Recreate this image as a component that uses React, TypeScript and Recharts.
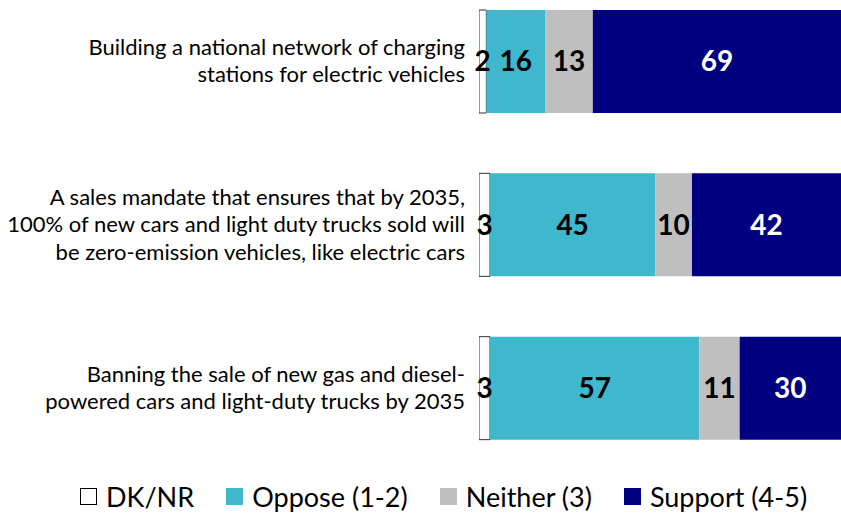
import React from "react";
import { BarChart, Bar, XAxis, YAxis, LabelList, Legend } from "recharts";

const statements = [
  "Building a national network of charging|stations for electric vehicles",
  "A sales mandate that ensures that by 2035,|100% of new cars and light duty trucks sold will|be zero-emission vehicles, like electric cars",
  "Banning the sale of new gas and diesel-|powered cars and light-duty trucks by 2035",
];
const dkNr = [2, 3, 3];
const oppose = [16, 45, 57];
const neither = [13, 10, 11];
const support = [69, 42, 30];

const series = [
  { key: "dk", name: "DK/NR", color: "#FFFFFF", text: "#000000" },
  { key: "oppose", name: "Oppose (1-2)", color: "#3FB8CE", text: "#000000" },
  { key: "neither", name: "Neither (3)", color: "#BFBFBF", text: "#000000" },
  { key: "support", name: "Support (4-5)", color: "#000080", text: "#FFFFFF" },
];

const data = statements.map((name, i) => ({
  name,
  dk: dkNr[i],
  oppose: oppose[i],
  neither: neither[i],
  support: support[i],
}));

const FONT = "Lato, 'Open Sans', sans-serif";

const StatementTick = (props: any) => {
  const { x, y, payload } = props;
  const lines: string[] = String(payload.value).split("|");
  const lh = 27.5;
  const start = y - 2 - ((lines.length - 1) * lh) / 2;
  return (
    <text
      x={x - 6}
      y={start}
      textAnchor="end"
      dominantBaseline="central"
      fontFamily={FONT}
      fontSize={22}
      fill="#000"
    >
      {lines.map((l, i) => (
        <tspan key={i} x={x - 6} y={start + i * lh} dominantBaseline="central">
          {l}
        </tspan>
      ))}
    </text>
  );
};

const LegendContent = () => (
  <div
    style={{
      display: "flex",
      fontFamily: FONT,
      fontSize: 27,
      lineHeight: "33px",
      color: "#000",
      paddingLeft: 80,
      alignItems: "center",
      whiteSpace: "nowrap",
      width: 841,
      boxSizing: "border-box",
    }}
  >
    {series.map((s) => (
      <div
        key={s.key}
        style={{ display: "flex", alignItems: "center", marginRight: 32, flexShrink: 0 }}
      >
        <span
          style={{
            display: "inline-block",
            width: 17,
            height: 17,
            background: s.color,
            border: s.key === "dk" ? "1px solid #000" : "none",
            boxSizing: "border-box",
            marginRight: 9,
          }}
        />
        <span>{s.name}</span>
      </div>
    ))}
  </div>
);

export default function App() {
  return (
    <div style={{ position: "absolute", left: 0, top: 0, width: 841, height: 513, background: "#fff" }}>
      <BarChart
        width={841}
        height={513}
        data={data}
        layout="vertical"
        margin={{ top: -20, right: 0, left: 0, bottom: 10 }}
      >
        <XAxis type="number" hide domain={[0, 98.6]} allowDataOverflow />
        <YAxis
          type="category"
          dataKey="name"
          width={479}
          axisLine={false}
          tickLine={false}
          tick={<StatementTick />}
        />
        <Legend
          verticalAlign="bottom"
          content={<LegendContent />}
          wrapperStyle={{ bottom: 0, left: 0, width: 841 }}
        />
        {series.map((s) => (
          <Bar
            key={s.key}
            dataKey={s.key}
            name={s.name}
            stackId="a"
            fill={s.color}
            stroke={s.key === "dk" ? "#333" : "none"}
            strokeWidth={1}
            barSize={103}
            isAnimationActive={false}
          >
            <LabelList
              dataKey={s.key}
              position="center"
              fill={s.text}
              fontFamily={FONT}
              fontWeight="bold"
              fontSize={28}
            />
          </Bar>
        ))}
      </BarChart>
    </div>
  );
}
